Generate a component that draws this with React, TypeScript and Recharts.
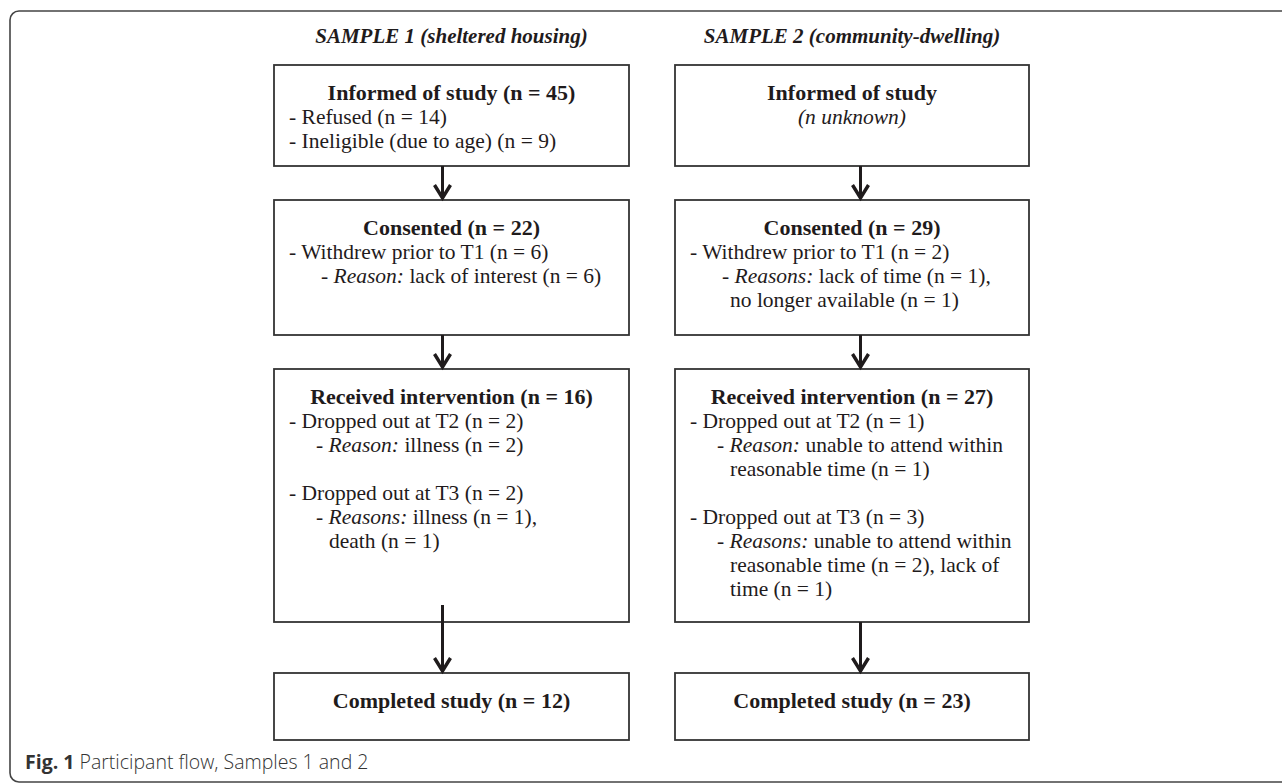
import { ComposedChart, XAxis, YAxis, ReferenceArea, ReferenceLine, Scatter } from "recharts";

const W = 1282;
const H = 783;

// ---- content ----
const samples = ["SAMPLE 1 (sheltered housing)", "SAMPLE 2 (community-dwelling)"];
const stages = ["Informed of study", "Consented", "Received intervention", "Completed study"];
const sample1Counts: (number | null)[] = [45, 22, 16, 12];
const sample2Counts: (number | null)[] = [null, 29, 27, 23];

// level: 0 = bullet, 1 = sub bullet, 2 = wrapped sub bullet, -1 = centred; null = empty line
type Note = { level: number; lead?: string; em?: string; text?: string } | null;

const sample1Notes: Note[][] = [
  [
    { level: 0, text: "- Refused (n = 14)" },
    { level: 0, text: "- Ineligible (due to age) (n = 9)" },
  ],
  [
    { level: 0, text: "- Withdrew prior to T1 (n = 6)" },
    { level: 1, lead: "- ", em: "Reason:", text: " lack of interest (n = 6)" },
  ],
  [
    { level: 0, text: "- Dropped out at T2 (n = 2)" },
    { level: 1, lead: "- ", em: "Reason:", text: " illness (n = 2)" },
    null,
    { level: 0, text: "- Dropped out at T3 (n = 2)" },
    { level: 1, lead: "- ", em: "Reasons:", text: " illness (n = 1)," },
    { level: 2, text: "death (n = 1)" },
  ],
  [],
];

const sample2Notes: Note[][] = [
  [{ level: -1, em: "(n unknown)" }],
  [
    { level: 0, text: "- Withdrew prior to T1 (n = 2)" },
    { level: 1, lead: "- ", em: "Reasons:", text: " lack of time (n = 1)," },
    { level: 2, text: "no longer available (n = 1)" },
  ],
  [
    { level: 0, text: "- Dropped out at T2 (n = 1)" },
    { level: 1, lead: "- ", em: "Reason:", text: " unable to attend within" },
    { level: 2, text: "reasonable time (n = 1)" },
    null,
    { level: 0, text: "- Dropped out at T3 (n = 3)" },
    { level: 1, lead: "- ", em: "Reasons:", text: " unable to attend within" },
    { level: 2, text: "reasonable time (n = 2), lack of" },
    { level: 2, text: "time (n = 1)" },
  ],
  [],
];

const captionLabel = "Fig. 1";
const captionText = " Participant flow, Samples 1 and 2";

// ---- layout (chart units = px) ----
const columnLeft = [274, 675];
const columnRight = [629, 1029];
const arrowX = [442.5, 860.5];
const rowTop = [65, 200, 369, 673];
const rowBottom = [166, 335, 622, 740];
const arrowFrom = [
  [166, 335, 605],
  [166, 335, 622],
];
const indent = [15, 44, 55];
const rowIndent1 = [44, 47, 42, 42];

const serif = "'Liberation Serif', 'Times New Roman', serif";
const sans = "'Open Sans', 'Noto Sans', sans-serif";
const ink = "#1f1b1c";

type Box = { id: string; col: number; row: number; title: string; notes: Note[] };

const boxes: Box[] = [];
[sample1Counts, sample2Counts].forEach((counts, col) => {
  const notes = col === 0 ? sample1Notes : sample2Notes;
  stages.forEach((stage, row) => {
    const n = counts[row];
    boxes.push({
      id: `b${col}${row}`,
      col,
      row,
      title: n == null ? stage : `${stage} (n = ${n})`,
      notes: notes[row],
    });
  });
});

const headerPoints = samples.map((s, i) => ({
  x: (columnLeft[i] + columnRight[i]) / 2,
  y: 43,
  label: s,
}));

const captionPoints = [{ x: 25, y: 769, label: captionLabel, text: captionText }];

function renderBox(p: any, b: Box) {
  const { x, y, width, height } = p;
  const base = y + 34.5;
  return (
    <g>
      <rect x={x} y={y} width={width} height={height} fill="#fff" stroke="#333" strokeWidth={1.8} />
      <text
        x={x + width / 2}
        y={base}
        textAnchor="middle"
        fontFamily={serif}
        fontWeight="bold"
        fontSize={22}
        fill={ink}
      >
        {b.title}
      </text>
      {b.notes.map((nt, k) => {
        if (!nt) return null;
        const ty = base + 24 * (k + 1);
        if (nt.level === -1) {
          return (
            <text key={k} x={x + width / 2} y={ty} textAnchor="middle" fontFamily={serif} fontStyle="italic" fontSize={21.5} fill={ink}>
              {nt.em}
            </text>
          );
        }
        const dx = nt.level === 1 ? rowIndent1[b.row] : indent[nt.level];
        return (
          <text key={k} x={x + dx} y={ty} fontFamily={serif} fontSize={21.5} fill={ink} style={{ whiteSpace: "pre" }}>
            {nt.lead && <tspan>{nt.lead}</tspan>}
            {nt.em && <tspan fontStyle="italic">{nt.em}</tspan>}
            {nt.text && <tspan>{nt.text}</tspan>}
          </text>
        );
      })}
    </g>
  );
}

function renderArrow(p: any) {
  const { x1, y1, x2, y2 } = p;
  return (
    <g stroke={ink} fill="none" strokeWidth={3}>
      <line x1={x1} y1={y1} x2={x2} y2={y2 - 1.5} />
      <polyline points={`${x2 - 8},${y2 - 15} ${x2},${y2 - 2} ${x2 + 8},${y2 - 15}`} strokeWidth={3.4} />
    </g>
  );
}

// open frame: top, left and bottom sides, the right side runs off the page
function renderFrame(p: any) {
  const { x, y, width, height } = p;
  const r = 9;
  const right = x + width;
  const bottom = y + height;
  const d = `M${right},${y} H${x + r} A${r},${r} 0 0 0 ${x},${y + r} V${bottom - r} A${r},${r} 0 0 0 ${x + r},${bottom} H${right}`;
  return <path d={d} fill="none" stroke="#444" strokeWidth={1.6} />;
}

function HeaderText(p: any) {
  const { cx, cy, payload } = p;
  return (
    <text x={cx} y={cy} textAnchor="middle" fontFamily={serif} fontWeight="bold" fontStyle="italic" fontSize={21} fill={ink}>
      {payload.label}
    </text>
  );
}

function CaptionText(p: any) {
  const { cx, cy, payload } = p;
  return (
    <text x={cx} y={cy} fontFamily={sans} fontSize={19.5} fill="#333" style={{ whiteSpace: "pre" }}>
      <tspan fontWeight="bold">{payload.label}</tspan>
      <tspan fontWeight={300}>{payload.text}</tspan>
    </text>
  );
}

export default function App() {
  return (
    <div style={{ position: "absolute", left: 0, top: 0, width: W, height: H, background: "#fff" }}>
      <ComposedChart width={W} height={H} margin={{ top: 0, right: 0, bottom: 0, left: 0 }}>
        <XAxis type="number" dataKey="x" domain={[0, W]} hide allowDataOverflow />
        <YAxis type="number" dataKey="y" domain={[0, H]} reversed hide allowDataOverflow />
        <ReferenceArea x1={10} x2={W} y1={11} y2={782} ifOverflow="visible" shape={renderFrame} />
        {boxes.map((b) => (
          <ReferenceArea
            key={b.id}
            x1={columnLeft[b.col]}
            x2={columnRight[b.col]}
            y1={rowTop[b.row]}
            y2={rowBottom[b.row]}
            ifOverflow="visible"
            shape={(p: any) => renderBox(p, b)}
          />
        ))}
        {arrowX.map((ax, col) =>
          arrowFrom[col].map((from, k) => (
            <ReferenceLine
              key={`a${col}${k}`}
              segment={[
                { x: ax, y: from },
                { x: ax, y: rowTop[k + 1] },
              ]}
              ifOverflow="visible"
              shape={renderArrow}
            />
          ))
        )}
        <Scatter data={headerPoints} shape={HeaderText} isAnimationActive={false} />
        <Scatter data={captionPoints} shape={CaptionText} isAnimationActive={false} />
      </ComposedChart>
    </div>
  );
}
